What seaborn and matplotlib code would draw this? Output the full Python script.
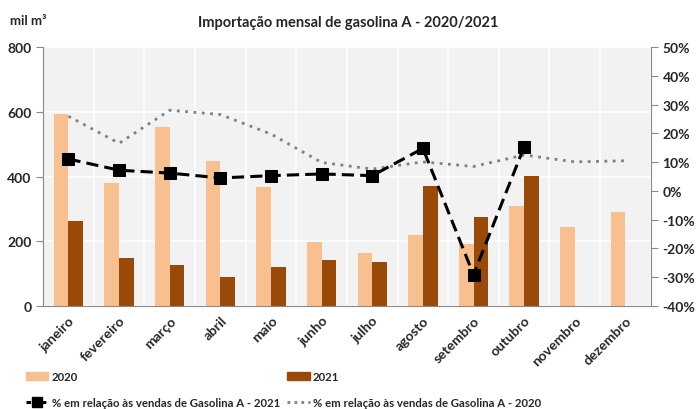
import numpy as np
import pandas as pd
import matplotlib.pyplot as plt
import seaborn as sns
from matplotlib.patches import Patch
from matplotlib.lines import Line2D

months = ["janeiro", "fevereiro", "março", "abril", "maio", "junho",
          "julho", "agosto", "setembro", "outubro", "novembro", "dezembro"]
imp_2020 = [593, 379, 554, 448, 367, 198, 163, 218, 192, 310, 243, 289]
imp_2021 = [261, 147, 126, 88, 119, 142, 134, 370, 274, 402, np.nan, np.nan]
pct_2021 = [11.1, 7.2, 6.2, 4.5, 5.3, 5.9, 5.3, 14.8, -29.2, 15.4, np.nan, np.nan]
pct_2020 = [26.0, 16.6, 28.1, 26.6, 19.8, 9.9, 7.6, 10.1, 8.5, 12.5, 10.1, 10.5]

c2020 = "#f9c08f"
c2021 = "#994a08"

sns.set_style("white")
plt.rcParams["font.family"] = ["Lato", "DejaVu Sans"]

df = pd.DataFrame({
    "mes": months * 2,
    "ano": ["2020"] * 12 + ["2021"] * 12,
    "valor": imp_2020 + imp_2021,
})

fig = plt.figure(figsize=(6.96, 4.10), dpi=100)
ax = fig.add_axes([0.062, 0.252, 0.873, 0.63])
ax.set_facecolor("#f2f2f2")

sns.barplot(data=df, x="mes", y="valor", hue="ano", order=months,
            palette={"2020": c2020, "2021": c2021}, width=0.58,
            saturation=1, ax=ax, legend=False, linewidth=0, zorder=2)

ax.set_ylim(0, 800)
ax.set_xlim(-0.5, 11.5)
ax.set_yticks([0, 200, 400, 600, 800])
ax.set_xticks(np.arange(-0.5, 12, 1), minor=True)
ax.grid(False)
ax.grid(True, which="minor", axis="x", color="white", lw=1.2, zorder=0)
ax.grid(True, which="major", axis="y", color="white", lw=1.2, zorder=0)
ax.set_axisbelow(True)
ax.set_xlabel("")
ax.set_ylabel("")
ax.set_xticklabels(months, rotation=45, ha="right", rotation_mode="anchor",
                   fontsize=10, fontweight="bold")
ax.tick_params(axis="x", which="major", length=0, pad=6)
ax.tick_params(axis="x", which="minor", length=5, color="#888888")
ax.tick_params(axis="y", length=5, color="#888888", labelsize=10)
for lab in ax.get_yticklabels():
    lab.set_fontweight("bold")
for s in ["top", "right"]:
    ax.spines[s].set_visible(False)
for s in ["left", "bottom"]:
    ax.spines[s].set_color("#888888")

ax2 = ax.twinx()
x = np.arange(len(months))
sns.lineplot(x=x, y=pct_2020, ax=ax2, color="#808080", lw=2,
             linestyle=(0, (1, 2)), zorder=3)
sns.lineplot(x=x, y=pct_2021, ax=ax2, color="black", lw=2.2,
             linestyle=(0, (4, 2)), marker="s", markersize=9,
             markeredgecolor="black", zorder=4)
ax2.set_ylim(-40, 50)
ax2.set_yticks(np.arange(-40, 51, 10))
ax2.set_yticklabels([f"{v}%" for v in range(-40, 51, 10)],
                    fontsize=10, fontweight="bold")
ax2.tick_params(axis="y", length=5, color="#888888")
for s in ["top", "left", "bottom"]:
    ax2.spines[s].set_visible(False)
ax2.spines["right"].set_color("#888888")

fig.text(0.5, 0.945, "Importação mensal de gasolina A - 2020/2021",
         ha="center", va="center", fontsize=10.5, fontweight="bold")
fig.text(0.014, 0.948, "mil m³", ha="left", va="center", fontsize=9.5,
         fontweight="bold")

handles = [
    Patch(color=c2020, label="2020"),
    Line2D([], [], color="black", lw=2.2, linestyle=(0, (1.5, 1)), marker="s",
           markersize=7, label="% em relação às vendas de Gasolina A - 2021"),
    Patch(color=c2021, label="2021"),
    Line2D([], [], color="#808080", lw=2, linestyle=(0, (1, 1.5)),
           label="% em relação às vendas de Gasolina A - 2020"),
]
leg = fig.legend(handles=handles, ncol=2, loc="lower left",
                 bbox_to_anchor=(0.022, -0.023), frameon=False,
                 prop={"weight": "bold", "size": 8.2},
                 handlelength=2.0, handletextpad=0.3, columnspacing=0.6,
                 labelspacing=1.35)

fig.savefig("out.png", dpi=100)
